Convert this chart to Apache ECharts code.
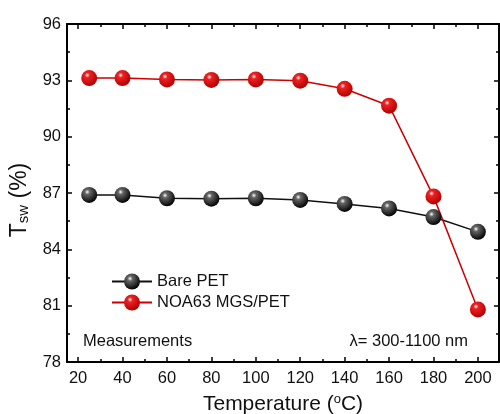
<!DOCTYPE html>
<html><head><meta charset="utf-8">
<script src="https://cdn.jsdelivr.net/npm/echarts@6/dist/echarts.min.js"></script>
<style>html,body{margin:0;padding:0;background:#fff}#c{width:500px;height:414px}</style>
</head><body><div id="c"></div>
<script>
const temps = [25, 40, 60, 80, 100, 120, 140, 160, 180, 200];
const barePET = [86.9, 86.9, 86.72, 86.7, 86.72, 86.63, 86.42, 86.18, 85.72, 84.93];
const noaPET = [93.12, 93.12, 93.05, 93.02, 93.05, 92.98, 92.55, 91.65, 86.82, 80.8];
const xMajor = [20, 40, 60, 80, 100, 120, 140, 160, 180, 200];
const xMinor = [30, 50, 70, 90, 110, 130, 150, 170, 190];
const seriesNames = ['Bare PET', 'NOA63 MGS/PET'];

const chart = echarts.init(document.getElementById('c'));
const font = 'Liberation Sans, Arial, sans-serif';
function ball(c1, c2) {
  return new echarts.graphic.RadialGradient(0.38, 0.32, 0.7, [
    {offset: 0, color: '#ffffff'},
    {offset: 0.22, color: c1},
    {offset: 1, color: c2}
  ]);
}
const X = {min: 15, max: 209.5, type: 'value'};
function xAx(pos, ticks, len, labels, line) {
  return Object.assign({}, X, {
    position: pos,
    axisLine: {show: line, onZero: false, lineStyle: {color: '#000', width: 2}},
    axisTick: {show: true, inside: true, length: len, customValues: ticks, lineStyle: {color: '#000', width: 1.5}},
    axisLabel: labels ? {show: true, customValues: xMajor, fontSize: 16.5, color: '#111', fontFamily: font, margin: 8} : {show: false},
    splitLine: {show: false}
  });
}
function yAx(pos, labels) {
  return {
    type: 'value', min: 78, max: 96, interval: 3, position: pos,
    axisLine: {show: true, onZero: false, lineStyle: {color: '#000', width: 2}},
    axisTick: {show: true, inside: true, length: 5, lineStyle: {color: '#000', width: 1.5}},
    minorTick: {show: true, splitNumber: 2, length: 3, lineStyle: {color: '#000', width: 1.5}},
    axisLabel: labels ? {show: true, fontSize: 16.5, color: '#111', fontFamily: font, margin: 6} : {show: false},
    splitLine: {show: false}, minorSplitLine: {show: false}
  };
}
chart.setOption({
  animation: false,
  grid: {left: 67, right: 1, top: 24, bottom: 52, outerBoundsMode: 'none', containLabel: false},
  xAxis: [
    Object.assign(xAx('bottom', xMajor, 5, true, true), {
      name: '{a|Temperature (}{s|o}{a|C)}', nameLocation: 'middle', nameGap: 31,
      nameTextStyle: {rich: {a: {fontSize: 21, fontFamily: font, color: '#111'}, s: {fontSize: 13, fontFamily: font, color: '#111', verticalAlign: 'top', padding: [0, 0, 9, 0]}}}
    }),
    xAx('bottom', xMinor, 3, false, false),
    xAx('top', xMajor, 5, false, true),
    xAx('top', xMinor, 3, false, false)
  ],
  yAxis: [
    Object.assign(yAx('left', true), {
      name: '{a|T}{s|sw}{a| (%)}', nameLocation: 'middle', nameGap: 34,
      nameTextStyle: {padding: [0, 14, 0, 0], rich: {a: {fontSize: 23, fontFamily: font, color: '#111'}, s: {fontSize: 15, fontFamily: font, color: '#111', verticalAlign: 'bottom', padding: [10, 0, 0, 0]}}}
    }),
    yAx('right', false)
  ],
  legend: {
    left: 106, top: 268, orient: 'vertical', itemGap: 4, itemWidth: 40, itemHeight: 20,
    textStyle: {fontSize: 16.5, fontFamily: font, color: '#111'},
    data: seriesNames
  },
  graphic: [
    {type: 'text', left: 83, top: 333, style: {text: 'Measurements', fontSize: 16.5, fontFamily: font, fill: '#111'}},
    {type: 'text', right: 32, top: 333, style: {text: 'λ= 300-1100 nm', fontSize: 16.5, fontFamily: font, fill: '#111'}}
  ],
  series: [
    {
      name: seriesNames[0], type: 'line', data: temps.map((t, i) => [t, barePET[i]]),
      symbol: 'circle', symbolSize: 16,
      lineStyle: {color: '#111', width: 1.5},
      itemStyle: {color: ball('#666', '#000'), borderWidth: 0}
    },
    {
      name: seriesNames[1], type: 'line', data: temps.map((t, i) => [t, noaPET[i]]),
      symbol: 'circle', symbolSize: 16,
      lineStyle: {color: '#cc0000', width: 1.5},
      itemStyle: {color: ball('#e22', '#b00000'), borderWidth: 0}
    }
  ]
});
</script></body></html>
